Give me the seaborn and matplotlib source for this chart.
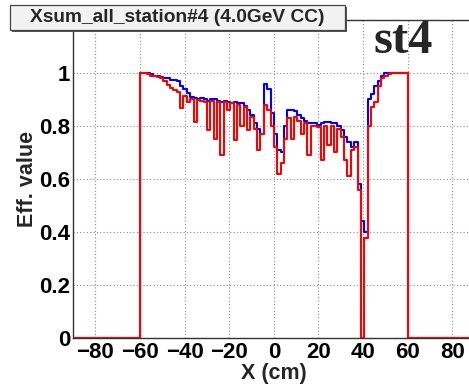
import numpy as np
import pandas as pd
import matplotlib
matplotlib.use("Agg")
import matplotlib.pyplot as plt
import seaborn as sns
from matplotlib.ticker import MultipleLocator, FuncFormatter
from matplotlib.patches import Rectangle

# ---------------- data ----------------
title = "Xsum_all_station#4 (4.0GeV CC)"
tag = "st4"
xlabel = "X (cm)"
ylabel = "Eff. value"

bin_width = 1.5
x_range = (-90, 90)
first_bin_lo = -60.0

blue_eff = [
    1.0, 1.0, 1.0, 0.995, 0.99, 0.99, 0.985, 0.98, 0.98, 0.975,
    0.975, 0.97, 0.95, 0.94, 0.925, 0.91, 0.905, 0.90, 0.905, 0.90,
    0.895, 0.90, 0.90, 0.895, 0.89, 0.895, 0.89, 0.885, 0.89, 0.885,
    0.885, 0.875, 0.86, 0.84, 0.81, 0.79, 0.77, 0.96, 0.94, 0.85,
    0.77, 0.71, 0.70, 0.80, 0.86, 0.86, 0.855, 0.84, 0.83, 0.82,
    0.81, 0.81, 0.81, 0.805, 0.81, 0.815, 0.815, 0.81, 0.81, 0.80,
    0.785, 0.76, 0.74, 0.72, 0.74, 0.58, 0.44, 0.40, 0.90, 0.92,
    0.95, 0.97, 0.99, 1.0, 1.0, 1.0, 1.0, 1.0, 1.0, 1.0,
]
red_eff = [
    1.0, 1.0, 0.995, 0.99, 0.99, 0.985, 0.98, 0.97, 0.955, 0.945,
    0.935, 0.93, 0.867, 0.915, 0.89, 0.90, 0.816, 0.898, 0.895, 0.89,
    0.785, 0.895, 0.75, 0.89, 0.69, 0.89, 0.86, 0.885, 0.746, 0.88,
    0.80, 0.87, 0.785, 0.835, 0.79, 0.71, 0.77, 0.88, 0.86, 0.80,
    0.72, 0.62, 0.66, 0.75, 0.83, 0.75, 0.835, 0.82, 0.77, 0.81,
    0.69, 0.80, 0.80, 0.795, 0.67, 0.80, 0.73, 0.80, 0.70, 0.79,
    0.76, 0.67, 0.61, 0.71, 0.72, 0.56, 0.0, 0.377, 0.80, 0.87,
    0.89, 0.95, 0.98, 0.99, 0.995, 1.0, 1.0, 1.0, 1.0, 1.0,
]

# -------------- table ---------------
edges = np.arange(x_range[0], x_range[1] + bin_width / 2, bin_width)
centers = (edges[:-1] + edges[1:]) / 2
n_pad = int(round((first_bin_lo - x_range[0]) / bin_width))


def padded(vals):
    full = np.zeros(len(centers))
    full[n_pad:n_pad + len(vals)] = vals
    return full


df = pd.DataFrame({"x": centers, "blue": padded(blue_eff), "red": padded(red_eff)})

# -------------- style ---------------
sns.set_style("white")
plt.rcParams["font.family"] = ["Liberation Sans", "DejaVu Sans"]
plt.rcParams["font.weight"] = "bold"
plt.rcParams["axes.labelweight"] = "bold"
plt.rcParams["axes.unicode_minus"] = True

W, H = 469, 385
fig = plt.figure(figsize=(W / 100, H / 100), dpi=100)
fig.patch.set_facecolor("white")

ax_l, ax_r, ax_b, ax_t = 73, 474.7, 338, 20
ax = fig.add_axes([ax_l / W, (H - ax_b) / H, (ax_r - ax_l) / W, (ax_b - ax_t) / H])

for col, colour, z in (("blue", "#0000ff", 3), ("red", "#ff0000", 4)):
    sns.histplot(data=df, x="x", weights=col, binwidth=bin_width,
                 binrange=x_range, element="step", fill=False, color=colour,
                 linewidth=1.5, ax=ax, zorder=z)

ax.set_xlim(*x_range)
ax.set_ylim(0, 1.2)

ax.xaxis.set_major_locator(MultipleLocator(20))
ax.xaxis.set_minor_locator(MultipleLocator(5))
ax.yaxis.set_major_locator(MultipleLocator(0.2))
ax.yaxis.set_minor_locator(MultipleLocator(0.05))
xfmt = FuncFormatter(lambda v, p: ("%g" % round(v, 3)).replace("-", "\u2212"))
# the top label (1.2) sits under the title box in the reference
yfmt = FuncFormatter(lambda v, p: "" if v > 1.1 else "%g" % round(v, 3))
ax.xaxis.set_major_formatter(xfmt)
ax.yaxis.set_major_formatter(yfmt)

ax.grid(True, which="major", color="#8a8a8a", linestyle=(0, (1, 2)), linewidth=0.8)
ax.set_axisbelow(True)

for s in ax.spines.values():
    s.set_color("#333333")
    s.set_linewidth(1.0)

ax.tick_params(axis="both", which="both", direction="in", colors="#333333",
               labelcolor="black", width=0.9, top=False, right=False)
ax.tick_params(axis="x", which="major", length=5.5, pad=3, labelsize=16)
ax.tick_params(axis="x", which="minor", length=2.6)
ax.tick_params(axis="y", which="major", length=8.6, pad=2, labelsize=16)
ax.tick_params(axis="y", which="minor", length=4.6)

ax.set_xlabel(xlabel, fontsize=15.5, fontweight="bold", labelpad=0)
ax.set_ylabel(ylabel, fontsize=15.5, fontweight="bold", labelpad=1)

# title box with shadow (ROOT style)
bx0, bx1, by0, by1 = 10, 345, 5, 30
fig.patches.append(Rectangle(((bx0 + 2) / W, (H - by1 - 2) / H), (bx1 - bx0) / W,
                             (by1 - by0) / H, transform=fig.transFigure,
                             facecolor="#555555", edgecolor="none", zorder=5))
fig.patches.append(Rectangle((bx0 / W, (H - by1) / H), (bx1 - bx0) / W,
                             (by1 - by0) / H, transform=fig.transFigure,
                             facecolor="#f2f2f2", edgecolor="#444444",
                             linewidth=0.9, zorder=6))
fig.text((bx0 + bx1) / 2 / W, (H - (by0 + by1) / 2) / H, title, ha="center",
         va="center", fontsize=13.8, fontweight="bold", zorder=7)

fig.text(403 / W, (H - 53) / H, tag, ha="center", va="baseline",
         family=["Liberation Serif", "DejaVu Serif"], fontweight="bold",
         fontsize=35, zorder=7)

fig.savefig("out.png", dpi=100)
